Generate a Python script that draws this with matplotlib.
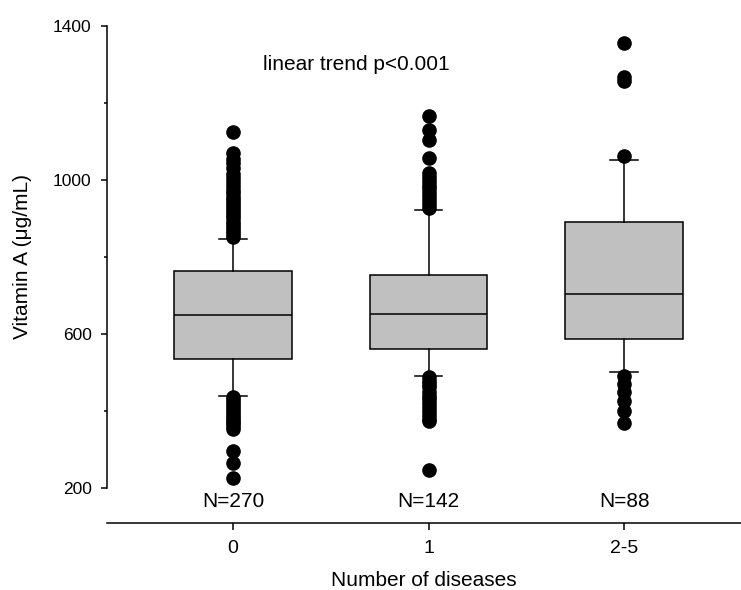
import matplotlib
matplotlib.use("Agg")
import matplotlib.pyplot as plt
from matplotlib.ticker import MultipleLocator

plt.rcParams['font.family'] = ['Liberation Sans', 'DejaVu Sans']

# --- data ---
GROUPS = ["0", "1", "2-5"]
N_LABELS = ["N=270", "N=142", "N=88"]
Q1 = [536, 561, 586]
MEDIANS = [648, 652, 704]
Q3 = [764, 753, 892]
WHISK_LO = [440, 491, 500]
WHISK_HI = [847, 922, 1052]
FLIERS_0 = [1124, 1070, 1055, 1045, 1030, 1015, 1005, 995, 985, 975, 965, 957,
            948, 940, 932, 924, 916, 908, 900, 892, 884, 876, 868, 860, 852,
            435, 428, 420, 413, 405, 398, 390, 383, 375, 368, 360, 352,
            295, 265, 227]
FLIERS_1 = [1166, 1131, 1105, 1057, 1018, 1008, 998, 988, 978, 968, 958, 948,
            938, 928, 487, 479, 470, 462, 450, 440, 430, 420, 410, 400, 390,
            380, 375, 246]
FLIERS_2 = [1356, 1268, 1258, 1062, 492, 470, 449, 426, 401, 370]
FLIERS = [FLIERS_0, FLIERS_1, FLIERS_2]

stats = []
for i in range(len(GROUPS)):
    stats.append({"q1": Q1[i], "med": MEDIANS[i], "q3": Q3[i],
                  "whislo": WHISK_LO[i], "whishi": WHISK_HI[i],
                  "fliers": FLIERS[i], "label": GROUPS[i]})

fig = plt.figure(figsize=(7.41, 5.90), dpi=100)
ax = fig.add_axes([107 / 741, 1 - 523 / 590, 1 - 107 / 741, (523 - 26) / 590])

lw = 1.1
ax.bxp(stats, positions=range(len(GROUPS)), widths=0.6, capwidths=0.14,
       patch_artist=True,
       boxprops=dict(facecolor="#c0c0c0", edgecolor="black", linewidth=lw),
       medianprops=dict(color="black", linewidth=lw),
       whiskerprops=dict(color="black", linewidth=lw),
       capprops=dict(color="black", linewidth=lw),
       flierprops=dict(marker="o", markerfacecolor="black",
                       markeredgecolor="black", markersize=9.5))

ax.set_xlim(-0.645, 2.598)
ax.set_ylim(109, 1400)

for s in ["top", "right"]:
    ax.spines[s].set_visible(False)
ax.spines["left"].set_bounds(200, 1400)
for s in ["left", "bottom"]:
    ax.spines[s].set_linewidth(lw)

ax.set_yticks([200, 600, 1000, 1400])
ax.yaxis.set_minor_locator(MultipleLocator(200))
ax.tick_params(axis="y", which="major", direction="out", length=4.5, width=lw,
               labelsize=12.5, pad=6.5)
ax.tick_params(axis="y", which="minor", direction="out", length=2.5, width=lw)
ax.set_xticks(range(len(GROUPS)))
ax.set_xticklabels(GROUPS)
ax.tick_params(axis="x", direction="out", length=5, width=lw,
               labelsize=14, pad=7)

for i, lab in enumerate(N_LABELS):
    ax.text(i, 164, lab, ha="center", va="center", fontsize=15)

ax.text(0.63, 1300, "linear trend p<0.001", ha="center", va="center",
        fontsize=15)

ax.set_ylabel("Vitamin A (\u03bcg/mL)", fontsize=15)
ax.yaxis.set_label_coords(-0.118, (200 - 109 + 600) / (1400 - 109))
ax.set_xlabel("Number of diseases", fontsize=15, labelpad=10)

fig.savefig("out.png", dpi=100)
